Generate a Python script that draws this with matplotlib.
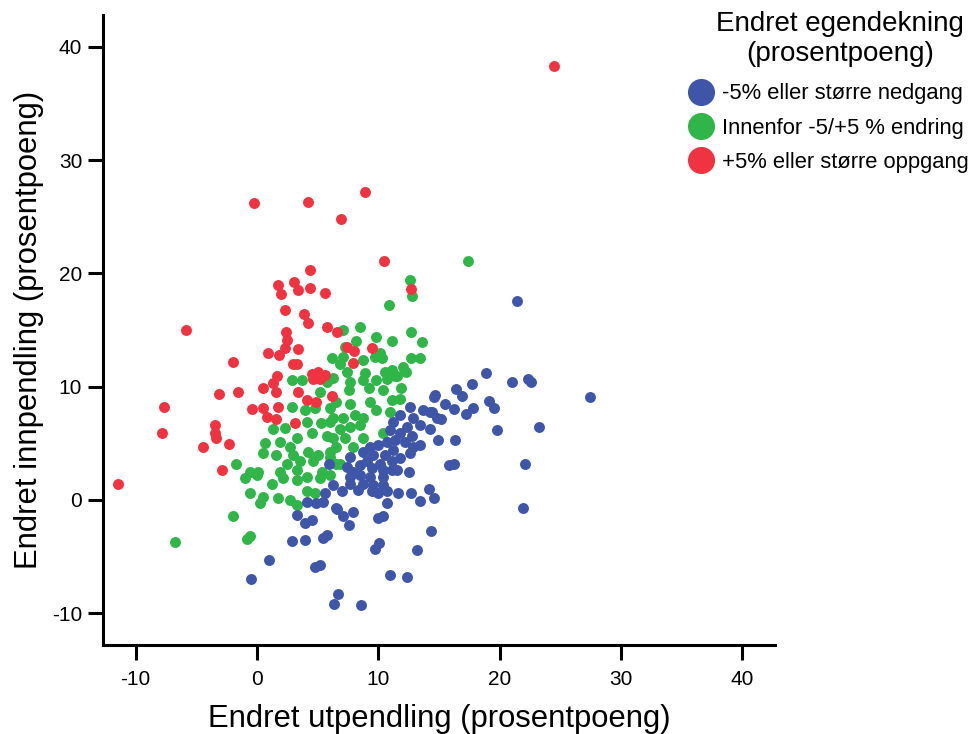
import matplotlib.pyplot as plt
from matplotlib.lines import Line2D

plt.rcParams["font.family"] = ["Liberation Sans", "DejaVu Sans"]
plt.rcParams["axes.unicode_minus"] = False

# Endret utpendling (x) og innpendling (y), prosentpoeng, per gruppe
green_x = [12.6, 12.8, 10.9, 7.05, 8.5, 9.85, 11.1, 12.7, 13.6, 8.15, 7.25, 10.1, 10.3, 9.7,
           6.2, 7.1, 6.85, 8.75, 12.7, 13.4, 12.05, 12.3, 8.9, 10.55, 11.1, 7.4, 11.4,
           2.85, 3.7, 5.75, 5.2, 2.85, 3.95, 4.8, 6.0, 1.35, 2.3, 4.1, 5.3, 6.3, 4.5, 5.75,
           3.3, 1.9, 0.65, 2.7, 0.5, 1.6, 3.0, 4.2, 5.05, 6.0, 4.65, 3.55, 2.45, 6.55, -1.75,
           -0.6, 0.1, 1.9, 3.3, 5.35,
           6.3, 7.65, 8.75, 9.85, 10.7, 11.5, 11.9, 10.4, 9.2, 7.55, 6.55, 7.65, 9.3, 11.1,
           11.8, 9.85, 10.95, 8.1, 7.1, 8.75, 6.0, 6.85, 7.65, 8.5, 10.35, 6.3, 7.25, 8.75,
           7.95, 6.55, 6.0, 6.85,
           -1.0, 0.0, 1.2, 2.15, 3.3, 4.1, 5.2, 6.0, -0.6, 0.5, 1.75, 0.25, 2.7, 3.3, 4.1,
           4.8, -1.95, -0.6, -0.85,
           17.4, -6.75]
green_y = [19.4, 18.0, 17.2, 15.0, 15.3, 14.4, 14.0, 14.85, 13.96, 14.0, 13.5, 13.0, 12.5, 12.6,
           12.5, 12.6, 12.0, 12.35, 12.5, 12.5, 11.7, 11.3, 11.2, 11.3, 11.5, 11.3, 10.9,
           10.6, 10.6, 10.4, 9.55, 8.2, 7.9, 8.1, 8.1, 6.3, 6.35, 6.9, 6.75, 7.2, 5.9, 5.6,
           5.45, 5.15, 5.0, 4.7, 4.1, 3.95, 3.95, 4.25, 3.95, 4.25, 3.4, 3.4, 3.2, 3.2, 3.2,
           2.5, 2.5, 2.5, 2.65, 2.5,
           10.8, 10.4, 10.6, 10.6, 10.7, 10.9, 9.85, 9.7, 9.85, 9.7, 8.65, 8.5, 8.65, 8.8,
           8.95, 7.9, 7.8, 7.5, 7.2, 7.2, 6.9, 6.3, 6.45, 6.6, 5.95, 5.45, 5.45, 5.45,
           4.7, 4.7, 3.8, 3.2,
           1.9, 2.2, 1.45, 1.9, 1.75, 2.05, 1.9, 2.2, 0.6, 0.3, 0.15, -0.3, 0.0, -0.45, 0.75,
           0.6, -1.45, -3.2, -3.45,
           21.1, -3.75]

blue_x = [5.9, 14.55, 12.6, 13.7, 14.25, 11.8, 12.9, 14.8, 11.25, 12.35, 13.45, 14.25, 10.95,
          11.8, 12.75, 11.4, 12.2, 10.7, 10.0, 9.3, 12.9, 13.45, 11.25, 8.75, 9.6, 10.55, 12.6,
          7.65, 9.05, 10.15, 11.1, 11.8, 8.5, 9.45, 10.4, 11.5, 7.4, 7.95, 12.5,
          6.3, 5.6, 5.45, 4.1, 4.9, 6.55, 3.3, 4.5, 3.95, 2.85, 3.95, 5.45, 5.75, 1.0, 4.8, 5.2,
          7.65, 8.5, 9.3, 10.4, 11.1, 7.65, 8.75, 9.6, 10.4, 7.0, 8.35, 9.45, 10.0, 10.7, 11.6,
          12.7, 14.2, 14.55, 13.45, 10.75, 6.6, 7.9, 7.1, 7.55, 10.4, 10.0, 14.35, 10.05, 9.7,
          13.15,
          18.9, 22.35, 22.6, 21.0, 17.7, 16.4, 16.9, 14.7, 15.5, 19.1, 19.5, 17.8, 16.25, 17.2,
          14.4, 15.2, 19.75, 23.25, 14.9, 16.3, 15.8, 16.2, 22.1, 21.95, 21.45, 27.45,
          -0.5, 11.0, 12.4, 6.65, 6.35, 8.55]
blue_y = [3.15, 9.1, 8.2, 7.9, 7.8, 7.5, 7.2, 7.2, 6.9, 6.45, 6.6, 6.3, 6.2,
          5.9, 5.6, 5.3, 5.15, 5.15, 4.85, 4.7, 4.7, 4.85, 4.4, 4.25, 3.95, 3.95, 4.1,
          3.8, 3.4, 3.2, 3.4, 3.7, 3.1, 2.8, 2.65, 2.65, 2.95, 2.5, 2.5,
          1.3, 0.6, -0.15, -0.15, -0.3, -0.75, -1.3, -1.75, -2.05, -3.6, -3.5, -3.4, -3.1, -5.3,
          -5.9, -5.7,
          2.05, 2.2, 2.05, 2.05, 2.65, 1.45, 1.45, 1.3, 1.3, 0.75, 0.9, 0.75, 0.6, 0.75, 0.65,
          0.65, 0.95, 0.15, -0.1, -0.3, -0.8, -1.1, -1.45, -2.2, -1.45, -1.6, -2.7, -3.8, -4.3,
          -4.45,
          11.2, 10.7, 10.4, 10.4, 10.2, 9.75, 9.2, 9.3, 8.5, 8.75, 8.1, 8.15, 8.0, 7.55,
          7.75, 7.1, 6.2, 6.45, 5.3, 5.3, 3.1, 3.2, 3.2, -0.75, 17.6, 9.1,
          -6.95, -6.6, -6.8, -8.3, -9.15, -9.3]

red_x = [24.5, -11.5, -0.25, 4.2, 8.9, 6.9, 10.5, 4.35,
         1.7, 3.05, 1.95, 3.35, 4.4, 5.6, 2.3, 3.85, 4.2, 5.75, 6.6, 2.35, 2.45, 2.3, 0.9, 1.8,
         3.4, -2.0, 2.95, 3.3, 1.65, 4.55, 5.0, 5.6,
         12.7, 7.45, 8.0, 9.5, 7.95,
         1.35, 0.5, 1.6, -1.55, 3.4, 4.6, 5.2, 4.15, 4.85, 6.2, -0.45, 0.5, 1.75, 0.8, 1.6, 3.1,
         -5.85, -3.1, -7.7, -7.8, -3.45, -3.45, -3.4, -4.45, -2.35, -2.9]
red_y = [38.3, 1.45, 26.2, 26.3, 27.2, 24.75, 21.1, 20.3,
         19.0, 19.2, 18.2, 18.5, 18.7, 18.3, 16.8, 16.4, 15.6, 15.3, 14.8, 14.8, 14.1, 13.4, 13.0,
         12.8, 13.3, 12.2, 12.0, 12.0, 10.9, 11.1, 11.3, 11.0,
         18.6, 13.5, 13.1, 13.4, 12.05,
         10.3, 9.85, 9.55, 9.5, 9.5, 10.7, 10.7, 8.8, 8.65, 9.2, 8.0, 8.1, 8.2, 7.3, 7.1, 6.75,
         15.0, 9.35, 8.2, 5.9, 6.6, 5.95, 5.5, 4.65, 4.95, 2.6]

labels = ["-5% eller større nedgang", "Innenfor -5/+5 % endring", "+5% eller større oppgang"]
colors = ["#3f56a8", "#2fb548", "#ef3340"]

fig = plt.figure(figsize=(9.77, 7.34), dpi=100)
ax = fig.add_axes([0.1054, 0.1213, 0.6878, 0.8583])

ax.scatter(green_x, green_y, s=62, color=colors[1], linewidths=0)
ax.scatter(blue_x, blue_y, s=62, color=colors[0], linewidths=0)
ax.scatter(red_x, red_y, s=62, color=colors[2], linewidths=0)

ax.set_xlim(-12.7, 42.7)
ax.set_ylim(-12.8, 42.8)
ax.set_xticks([-10, 0, 10, 20, 30, 40])
ax.set_yticks([-10, 0, 10, 20, 30, 40])
ax.tick_params(labelsize=15, width=2.2, length=11, direction="out")
ax.tick_params(axis="x", pad=7)
ax.tick_params(axis="y", pad=4)
for side in ["top", "right"]:
    ax.spines[side].set_visible(False)
for side in ["left", "bottom"]:
    ax.spines[side].set_linewidth(2.2)

ax.set_xlabel("Endret utpendling (prosentpoeng)", fontsize=22.3, labelpad=11)
ax.set_ylabel("Endret innpendling (prosentpoeng)", fontsize=22.3, labelpad=6)

# legend title placed on its own so the entries can sit a bit lower
fig.text(0.86, 0.985, "Endret egendekning\n(prosentpoeng)", ha="center", va="top",
         fontsize=20, linespacing=1.2)

handles = [Line2D([], [], marker="o", linestyle="", markersize=19.5,
                  markerfacecolor=c, markeredgewidth=0) for c in colors]
fig.legend(handles, labels, loc="center left", bbox_to_anchor=(0.687, 0.8256),
           fontsize=15.8, frameon=False, handletextpad=0.3, borderpad=0.2,
           labelspacing=0.6, handlelength=1.3)

fig.savefig("out.png", dpi=100)
